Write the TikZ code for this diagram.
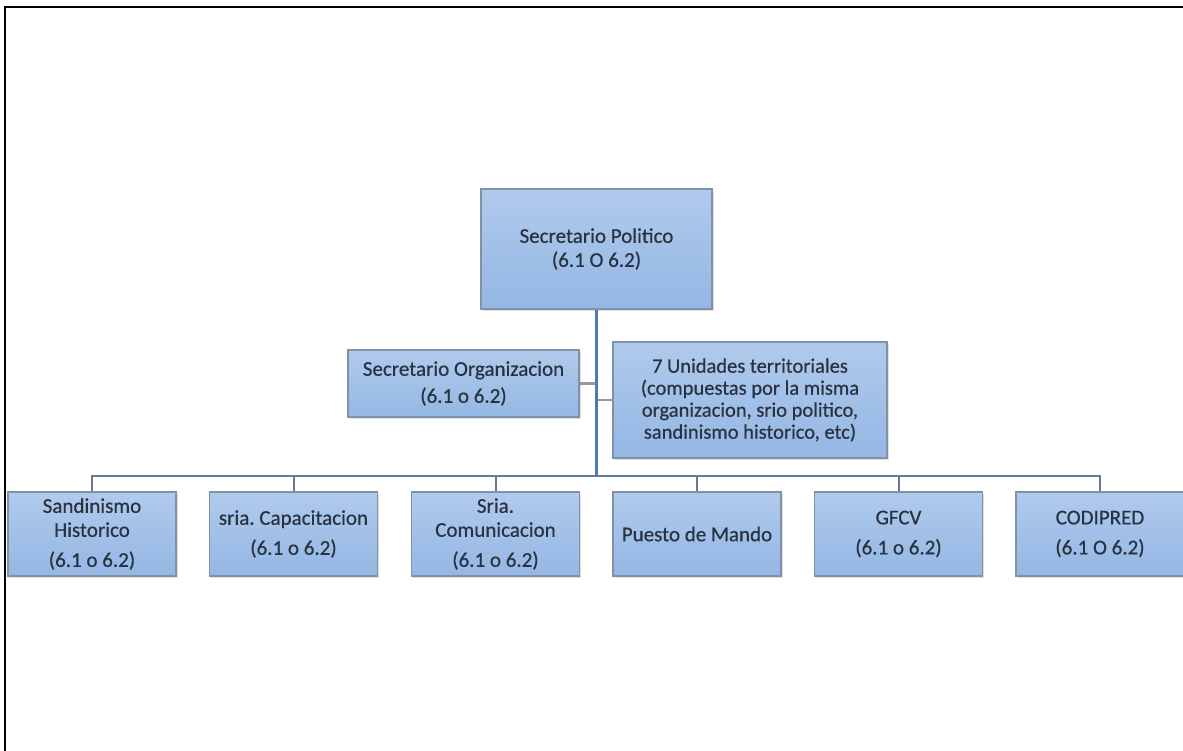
\documentclass[tikz,border=0pt]{standalone}
\usepackage{fontspec}
\setmainfont{Carlito}[FakeBold=0.5]
\usetikzlibrary{shadows}
\frenchspacing
\definecolor{boxtop}{RGB}{176,202,236}
\definecolor{boxbot}{RGB}{148,183,228}
\definecolor{boxline}{RGB}{128,145,168}
\definecolor{txt}{RGB}{40,50,64}
\definecolor{mainline}{RGB}{79,122,178}
\definecolor{barline}{RGB}{102,122,145}
\definecolor{sideline}{RGB}{160,150,140}
\tikzset{
  orgbox/.style={draw=boxline, line width=1.2bp, top color=boxtop, bottom color=boxbot,
    inner sep=2bp, align=center, text=txt, font=\fontsize{21bp}{24bp}\selectfont,
    drop shadow={shadow xshift=1.5bp, shadow yshift=-1.5bp, opacity=0.25}},
  topbox/.style={orgbox, minimum width=231bp, minimum height=120bp},
  midbox/.style={orgbox, minimum width=231bp, minimum height=67bp, font=\fontsize{21bp}{27bp}\selectfont},
  unibox/.style={orgbox, minimum width=274bp, minimum height=116bp, font=\fontsize{20.5bp}{22bp}\selectfont},
  botbox/.style={orgbox, minimum width=168bp, minimum height=84bp},
  mainconn/.style={draw=mainline, line width=3bp},
  barconn/.style={draw=barline, line width=2bp},
  sideconn/.style={draw=sideline, line width=2.5bp},
  frameline/.style={draw=black, line width=2.5bp}
}
\begin{document}
\begin{tikzpicture}[x=1bp,y=-1bp]
\useasboundingbox (0,0) rectangle (1183,751);
% frame (top and left only)
\draw[frameline] (5,751) -- (5,7) -- (1183,7);

\node[topbox] (sp) at (596.5,249) {Secretario Politico\\(6.1 O 6.2)};
\node[midbox] (so) at (463.5,383.5) {Secretario Organizacion\\(6.1 o 6.2)};
\node[unibox] (ut) at (750,400) {7 Unidades territoriales\\(compuestas por la misma\\organizacion, srio politico,\\sandinismo historico, etc)};

\node[botbox] (b1) at (92,534) {Sandinismo\\Historico\\[6bp](6.1 o 6.2)};
\node[botbox] (b2) at (293.5,534) {sria. Capacitacion\\[6bp](6.1 o 6.2)};
\node[botbox] (b3) at (495.5,534) {Sria.\\Comunicacion\\[6bp](6.1 o 6.2)};
\node[botbox] (b4) at (697,534) {Puesto de Mando};
\node[botbox] (b5) at (898.5,534) {GFCV\\[6bp](6.1 o 6.2)};
\node[botbox] (b6) at (1100,534) {CODIPRED\\[6bp](6.1 O 6.2)};

\coordinate (hub) at (596.5,476);
\coordinate (j1) at (596.5,383.5);
\coordinate (j2) at (596.5,400);

% horizontal bar and stubs
\draw[barconn] (b1.north) |- (hub) -| (b6.north);
\foreach \b in {b2,b3,b4,b5} \draw[barconn] (\b.north) -- (\b.north |- hub);
% side connectors
\draw[sideconn] (so.east) -- (j1);
\draw[sideconn] (ut.west) -- (j2);
% main vertical
\draw[mainconn] (sp.south) -- (hub);
\end{tikzpicture}
\end{document}
